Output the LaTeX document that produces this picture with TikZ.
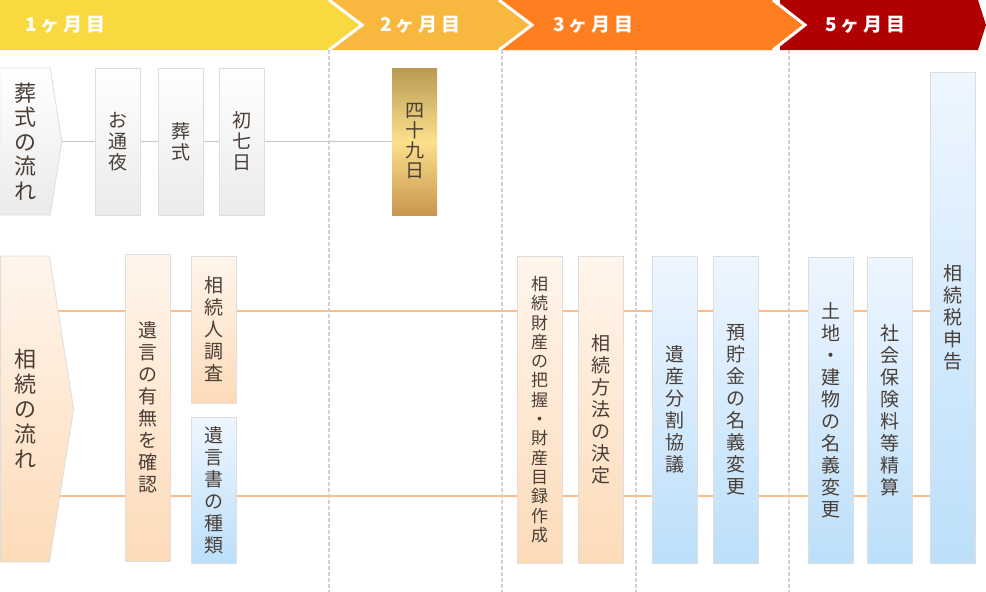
\documentclass[tikz,border=0pt]{standalone}
\usepackage{fontspec}
\setmainfont{Liberation Sans}
\newfontfamily\jp{Noto Sans CJK JP}
\newfontfamily\jpwide[LetterSpace=20]{Noto Sans CJK JP}
\usetikzlibrary{shapes.symbols,backgrounds}
\definecolor{ink}{HTML}{4A3F37}
\definecolor{frame}{HTML}{DDDDDD}
\definecolor{mon1}{HTML}{F8D940}
\definecolor{mon2}{HTML}{F8B840}
\definecolor{mon3}{HTML}{FF7F20}
\definecolor{mon5}{HTML}{B00000}
\definecolor{peachtop}{HTML}{FFF5EC}
\definecolor{peachbot}{HTML}{FDDBB9}
\definecolor{bluetop}{HTML}{EEF6FF}
\definecolor{bluebot}{HTML}{BCDFFA}
\definecolor{goldtop}{HTML}{B99A52}
\definecolor{goldmid}{HTML}{FCE08C}
\definecolor{goldbot}{HTML}{C8964F}
\definecolor{linkorange}{HTML}{FDBE86}

% stack the characters of a word one under the other
\makeatletter
\newcommand\tate[1]{\vbox{\@tfor\tate@c:=#1\do{\hbox to 1em{\hss\tate@c\hss}}}}
\makeatother

\begin{document}
\begin{tikzpicture}[x=1pt,y=-1pt,
  box/.style={draw=frame,line width=0.8pt,minimum width=45pt,inner sep=0pt,
              text=ink,font=\jp\fontsize{19}{22}\selectfont},
  grey/.style={box,top color=white,bottom color=black!8,minimum height=147pt,
               font=\jp\fontsize{19}{21}\selectfont},
  gold/.style={box,draw=none,top color=goldtop,bottom color=goldbot,
               middle color=goldmid,minimum height=147pt,
               font=\jp\fontsize{19}{20}\selectfont},
  peach/.style={box,top color=peachtop,bottom color=peachbot},
  blue/.style={box,top color=bluetop,bottom color=bluebot},
  flow/.style={signal,signal to=east,signal pointer angle=162,draw=frame,
               line width=0.8pt,inner sep=0pt,text=ink,
               font=\jp\fontsize{22}{24.5}\selectfont},
  month/.style={anchor=west,text=white,font=\jpwide\bfseries\fontsize{19}{19}\selectfont},
  chevron/.style={white,line width=3pt},
  guide/.style={black!18,line width=1.2pt,dash pattern=on 4pt off 2pt},
  link/.style={black!20,line width=1.3pt},
  olink/.style={linkorange,line width=1.3pt}
]
  \useasboundingbox (0,0) rectangle (986,592);

  % month bar
  \fill[mon5] (780,0) -- (978,0) -- (986,25) -- (978,50) -- (780,50) -- cycle;
  \fill[mon3] (499,0) -- (773,0) -- (805,25) -- (773,50) -- (499,50) -- cycle;
  \fill[mon2] (329,0) -- (499,0) -- (532,25) -- (499,50) -- (329,50) -- cycle;
  \fill[mon1] (0,0) -- (329,0) -- (362,25) -- (329,50) -- (0,50) -- cycle;
  \foreach \x/\t in {329/33,499/33,773/32}
    \draw[chevron] (\x,0) -- (\x+\t,25) -- (\x,50);
  \node[month] (m1) at (22,25) {1ヶ月目};
  \node[month] (m2) at (377,25) {2ヶ月目};
  \node[month] (m3) at (550,25) {3ヶ月目};
  \node[month] (m5) at (822,25) {5ヶ月目};

  % month borders
  \foreach \x in {329,502,636,789}
    \draw[guide] (\x,50) -- (\x,592);

  % funeral flow
  \node[flow,top color=white,bottom color=black!8,minimum width=62pt,
        minimum height=147pt] (so) at (25,141.5) {\tate{葬式の流れ}};
  \node[grey] (otsuya) at (117.5,141.5) {\tate{お通夜}};
  \node[grey] (soshiki) at (180.5,141.5) {\tate{葬式}};
  \node[grey] (nanoka) at (241.5,141.5) {\tate{初七日}};
  \node[gold] (d49) at (414.5,141.5) {\tate{四十九日}};

  % inheritance flow
  \node[flow,top color=peachtop,bottom color=peachbot,minimum width=73pt,
        minimum height=306pt,font=\jp\fontsize{22}{25}\selectfont]
        (sz) at (25,409) {\tate{相続の流れ}};
  \node[peach,minimum height=307pt] (igon) at (147.5,407.5) {\tate{遺言の有無を確認}};
  \node[peach,minimum height=147pt] (chosa) at (213.5,329.5) {\tate{相続人調査}};
  \node[blue,minimum height=146pt] (shurui) at (213.5,490) {\tate{遺言書の種類}};
  \node[peach,minimum height=307pt,font=\jp\fontsize{17}{19.3}\selectfont]
        (zaisan) at (539.5,409.5) {\tate{相続財産の把握・財産目録作成}};
  \node[peach,minimum height=307pt] (hoho) at (600.5,409.5) {\tate{相続方法の決定}};
  \node[blue,minimum height=307pt] (bunkatsu) at (674.5,409.5) {\tate{遺産分割協議}};
  \node[blue,minimum height=307pt] (yokin) at (735.5,409.5) {\tate{預貯金の名義変更}};
  \node[blue,minimum height=306pt] (tochi) at (830.5,410) {\tate{土地・建物の名義変更}};
  \node[blue,minimum height=306pt] (hoken) at (889.5,410) {\tate{社会保険料等精算}};
  \node[blue,minimum height=491pt] (zei) at (952.5,317.5) {\tate{相続税申告}};

  % links behind the boxes
  \begin{scope}[on background layer]
    \draw[link] (so) -- (d49);
    \draw[olink] (sz |- 0,311) -- (zei.west |- 0,311);
    \draw[olink] (sz |- 0,496) -- (zei.west |- 0,496);
  \end{scope}
\end{tikzpicture}
\end{document}
